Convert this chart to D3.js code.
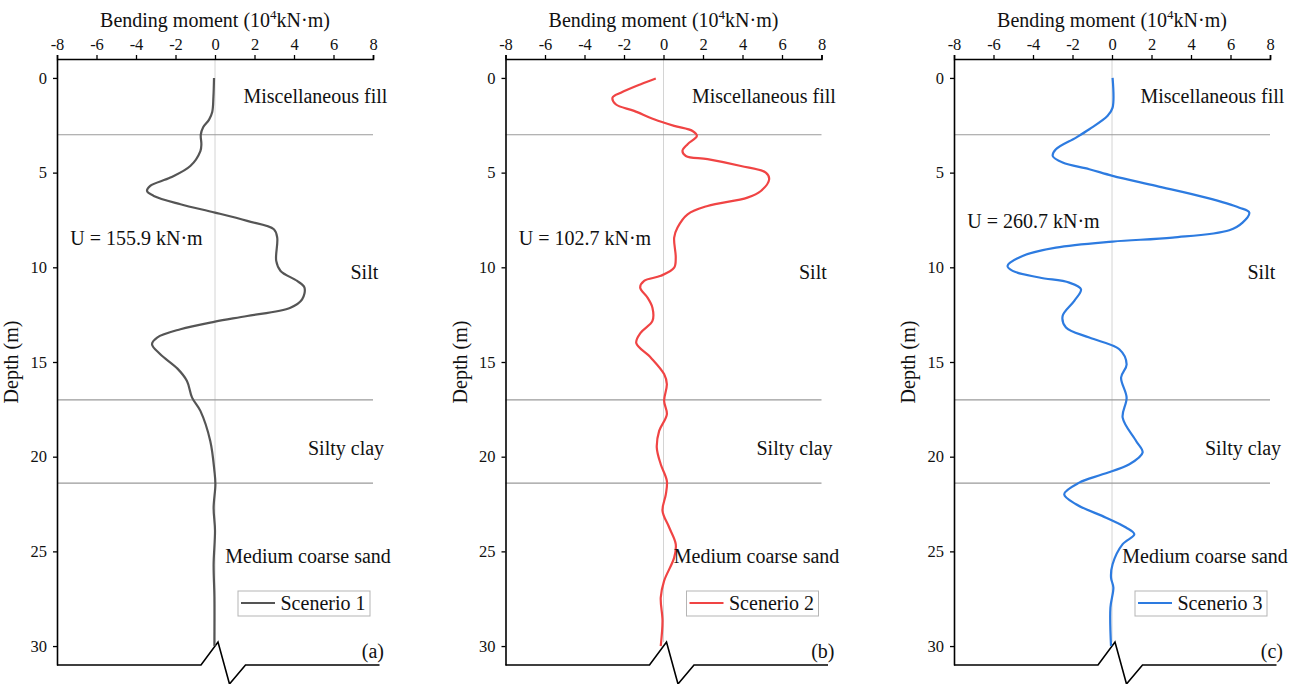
<!DOCTYPE html>
<html>
<head>
<meta charset="utf-8">
<script src="https://cdn.jsdelivr.net/npm/d3@7"></script>
<style>
  html, body { margin: 0; padding: 0; background: #fff; }
  svg { display: block; font-family: "Liberation Serif", "Times New Roman", serif; }
</style>
</head>
<body>
<svg id="chart" width="1300" height="684"></svg>
<script>
// ---------------- data ----------------
const xTicks = [-8, -6, -4, -2, 0, 2, 4, 6, 8];
const yTicks = [0, 5, 10, 15, 20, 25, 30];
const layerBounds = [3, 17, 21.4];
const layerNames = ["Miscellaneous fill", "Silt", "Silty clay", "Medium coarse sand"];
const scenarioNames = ["Scenerio 1", "Scenerio 2", "Scenerio 3"];
const panelLetters = ["(a)", "(b)", "(c)"];
const energyLabels = ["U = 155.9 kN·m", "U = 102.7 kN·m", "U = 260.7 kN·m"];

const depth1  = [0, 1, 1.8, 2.2, 2.6, 3.0, 3.5, 3.86, 4.65, 5.26, 5.7, 5.97, 6.23, 6.67, 7.11, 7.55, 7.99, 8.43, 9.66, 10.19, 10.72, 11.07, 11.69, 12.13, 12.57, 12.87, 13.27, 13.71, 14.06, 14.59, 15.35, 16.0, 16.88, 17.58, 19.17, 20.75, 21.45, 22.7, 23.9, 25.7, 27.4, 29.7, 30];
const moment1 = [-0.05, -0.08, -0.14, -0.3, -0.6, -0.72, -0.69, -0.74, -1.25, -2.26, -3.28, -3.44, -3.1, -1.75, 0, 1.63, 2.98, 3.15, 3.1, 3.32, 4.16, 4.53, 4.41, 3.82, 1.63, 0, -1.75, -2.93, -3.19, -2.77, -1.9, -1.42, -1.16, -0.74, -0.24, -0.03, 0.02, -0.07, 0.0, -0.07, -0.03, -0.03, -0.03];

const depth2  = [0.03, 0.33, 0.78, 1.04, 1.39, 1.74, 2.18, 2.53, 2.8, 3.06, 3.5, 3.85, 4.12, 4.29, 4.65, 5.0, 5.35, 5.97, 6.32, 6.76, 7.2, 7.9, 8.43, 9.49, 10.02, 10.45, 10.72, 11.07, 11.6, 12.13, 12.83, 13.45, 14.0, 14.77, 15.64, 16.17, 17.05, 17.76, 18.64, 19.52, 20.4, 21.28, 21.98, 22.86, 23.74, 24.62, 25.33, 26.56, 27.44, 28.67, 30.0];
const moment2 = [-0.39, -1.15, -2.16, -2.58, -2.42, -1.49, -0.48, 0.54, 1.47, 1.69, 1.22, 0.96, 1.13, 2.23, 3.92, 5.18, 5.35, 4.93, 4.25, 2.23, 1.22, 0.71, 0.54, 0.62, 0.54, -0.14, -0.98, -1.18, -0.81, -0.56, -0.56, -1.15, -1.38, -0.64, 0.03, 0.17, 0.03, 0.17, -0.22, -0.34, -0.14, 0.17, 0.12, -0.05, 0.29, 0.62, 0.54, 0.03, -0.14, -0.05, -0.14];

const depth3  = [0, 1.57, 2.0, 2.71, 3.15, 3.77, 4.12, 4.47, 4.82, 5.17, 5.7, 6.32, 6.85, 7.11, 7.64, 8.04, 8.43, 8.64, 8.96, 9.4, 9.93, 10.19, 10.54, 10.81, 11.16, 11.77, 12.57, 13.18, 13.71, 14.33, 15.12, 15.82, 16.88, 17.94, 19.17, 19.78, 20.4, 20.93, 21.37, 21.98, 22.51, 23.22, 23.74, 24.1, 24.62, 25.68, 26.38, 26.91, 27.97, 30.0];
const moment3 = [0.03, 0.03, -0.22, -1.15, -1.82, -2.84, -3.0, -2.5, -1.15, 0.03, 2.23, 4.76, 6.45, 6.95, 6.61, 5.94, 3.07, 0.03, -2.84, -4.53, -5.29, -5.03, -3.68, -2.16, -1.57, -1.91, -2.5, -2.33, -1.15, 0.37, 0.74, 0.46, 0.74, 0.54, 1.22, 1.55, 0.88, -0.48, -1.66, -2.42, -1.82, -0.3, 0.71, 1.13, 0.54, 0.03, -0.05, 0.07, -0.08, -0.05];

const colors = ["#555555", "#f04444", "#2d7be0"];

// ---------------- layout ----------------
const panelLefts = [57, 505.5, 954];
const plotW = 316;
const plotTop = 59, plotBottom = 665;

const svg = d3.select("#chart");
const series = [
  depth1.map((d, i) => ({ depth: d, m: moment1[i] })),
  depth2.map((d, i) => ({ depth: d, m: moment2[i] })),
  depth3.map((d, i) => ({ depth: d, m: moment3[i] }))
];

const y = d3.scaleLinear().domain([-1, 31]).range([plotTop, plotBottom]);

series.forEach((data, p) => {
  const g = svg.append("g").attr("transform", `translate(${panelLefts[p]},0)`);
  const x = d3.scaleLinear().domain([-8, 8]).range([0, plotW]);

  // zero reference line
  g.append("line")
    .attr("x1", x(0)).attr("x2", x(0))
    .attr("y1", plotTop).attr("y2", y(30) - 4)
    .attr("stroke", "#d4d4d4").attr("stroke-width", 1);

  // layer boundaries
  g.selectAll(".layer").data(layerBounds).enter().append("line")
    .attr("x1", 0).attr("x2", plotW)
    .attr("y1", d => y(d)).attr("y2", d => y(d))
    .attr("stroke", "#9a9a9a").attr("stroke-width", 1.2);

  // top axis
  const ax = g.append("g").attr("transform", `translate(0,${plotTop})`)
    .call(d3.axisTop(x).tickValues(xTicks).tickSize(4).tickPadding(5).tickFormat(d3.format("d")));
  ax.select(".domain").attr("stroke", "#000").attr("stroke-width", 1.6);
  ax.selectAll(".tick line").attr("stroke", "#000").attr("stroke-width", 1.3);
  ax.selectAll(".tick text").attr("font-size", 16.5).attr("font-family", "Liberation Serif").attr("fill", "#111")
    .text(d => d < 0 ? "-" + Math.abs(d) : d);

  // left axis
  const ay = g.append("g")
    .call(d3.axisLeft(y).tickValues(yTicks).tickSize(4).tickPadding(6).tickSizeOuter(0));
  ay.select(".domain").attr("stroke", "#000").attr("stroke-width", 1.6);
  ay.selectAll(".tick line").attr("stroke", "#000").attr("stroke-width", 1.3);
  ay.selectAll(".tick text").attr("font-size", 16.5).attr("font-family", "Liberation Serif").attr("fill", "#111");

  // bottom axis with break symbol
  const x0 = x(0);
  g.append("path")
    .attr("d", d3.line()([[0, plotBottom], [x0 - 14, plotBottom], [x0 + 3, y(30) - 4], [x0 + 14.5, plotBottom + 19], [x0 + 30.5, plotBottom], [plotW + 6.5, plotBottom]]))
    .attr("fill", "none").attr("stroke", "#000").attr("stroke-width", 1.6).attr("stroke-linejoin", "miter");

  // axis title
  const t = g.append("text")
    .attr("x", plotW / 2).attr("y", 27)
    .attr("text-anchor", "middle").attr("font-size", 20).attr("fill", "#111");
  t.append("tspan").text("Bending moment (10");
  t.append("tspan").text("4").attr("font-size", 13).attr("dy", -8);
  t.append("tspan").text("kN·m)").attr("dy", 8);

  g.append("text")
    .attr("transform", `translate(-39,${(plotTop + plotBottom) / 2}) rotate(-90)`)
    .attr("text-anchor", "middle").attr("font-size", 20).attr("fill", "#111")
    .text("Depth (m)");

  // curve
  const line = d3.line().x(d => x(d.m)).y(d => y(d.depth)).curve(d3.curveCatmullRom.alpha(0.5));
  g.append("path").datum(data)
    .attr("d", line)
    .attr("fill", "none").attr("stroke", colors[p]).attr("stroke-width", 2.2);

  // layer labels
  const labelPos = [[186.5, 103.3], [293.5, 279], [251, 455], [168.3, 563]];
  layerNames.forEach((n, i) => {
    g.append("text").attr("x", labelPos[i][0]).attr("y", labelPos[i][1])
      .attr("font-size", 20).attr("fill", "#111").text(n);
  });

  // energy annotation
  g.append("text").attr("x", 13.3).attr("y", p === 2 ? 228 : 245)
    .attr("font-size", 20).attr("fill", "#111").text(energyLabels[p]);

  // legend
  const lg = g.append("g").attr("transform", "translate(181,591)");
  lg.append("rect").attr("width", 132).attr("height", 25)
    .attr("fill", "#fff").attr("stroke", "#b5b5b5").attr("stroke-width", 1);
  lg.append("line").attr("x1", 3).attr("x2", 37).attr("y1", 12).attr("y2", 12)
    .attr("stroke", colors[p]).attr("stroke-width", 2.2);
  lg.append("text").attr("x", 42.5).attr("y", 18.5).attr("font-size", 20).attr("fill", "#111")
    .text(scenarioNames[p]);

  // panel letter
  g.append("text").attr("x", p === 0 ? 327 : 329).attr("y", 658)
    .attr("text-anchor", "end").attr("font-size", 20).attr("fill", "#111").text(panelLetters[p]);
});
</script>
</body>
</html>
